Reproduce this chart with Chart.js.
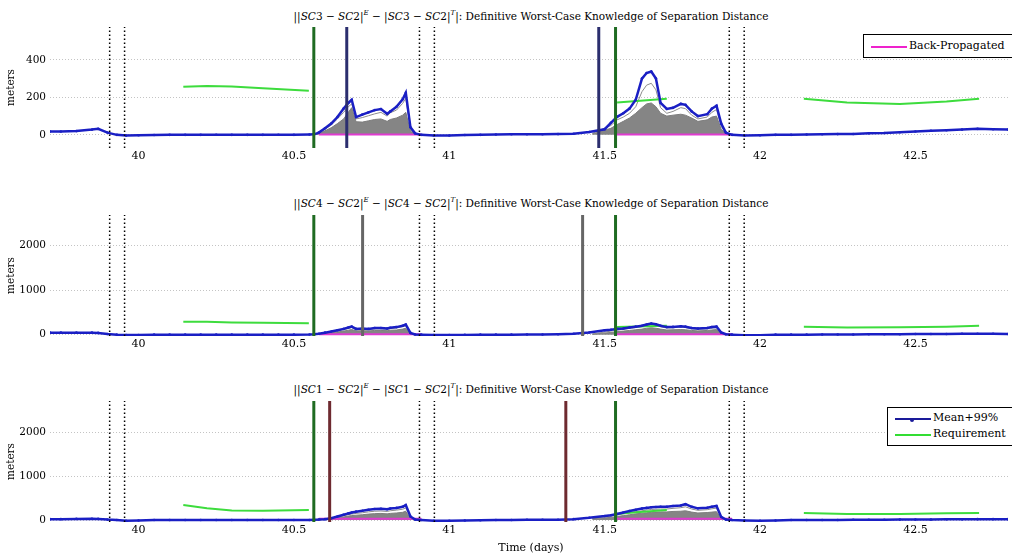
<!DOCTYPE html>
<html>
<head>
<meta charset="utf-8">
<script src="https://cdn.jsdelivr.net/npm/chart.js@4.4.0/dist/chart.umd.min.js"></script>
<style>
body { margin:0; background:#fff; width:1012px; height:557px; overflow:hidden; position:relative; font-family:"DejaVu Serif", serif; color:#000; }
canvas { position:absolute; left:0; }
.ptitle { position:absolute; left:50px; width:962px; text-align:center; font-size:10.5px; line-height:14px; white-space:nowrap; }
.ptitle sup { font-size:7px; vertical-align:5px; line-height:0; }
.xtitle { position:absolute; left:50px; width:962px; text-align:center; font-size:11px; line-height:14px; top:541px; }
.legend { position:absolute; background:#fff; border:1px solid #000; font-size:11px; z-index:5; }
.legend .row { position:absolute; left:0; height:14px; line-height:14px; white-space:nowrap; }
.legend .swatch { position:absolute; left:7px; width:36px; top:7px; }
.legend .lbl { position:absolute; left:45px; top:0; }
.legend .dot { position:absolute; left:15px; top:-2px; width:4px; height:4px; border-radius:2px; }
</style>
</head>
<body>
<div class="ptitle" style="top:9px">||<i>SC</i>3 &minus; <i>SC</i>2|<sup><i>E</i></sup> &minus; |<i>SC</i>3 &minus; <i>SC</i>2|<sup><i>T</i></sup>|: Definitive Worst-Case Knowledge of Separation Distance</div>
<div class="ptitle" style="top:196px">||<i>SC</i>4 &minus; <i>SC</i>2|<sup><i>E</i></sup> &minus; |<i>SC</i>4 &minus; <i>SC</i>2|<sup><i>T</i></sup>|: Definitive Worst-Case Knowledge of Separation Distance</div>
<div class="ptitle" style="top:382px">||<i>SC</i>1 &minus; <i>SC</i>2|<sup><i>E</i></sup> &minus; |<i>SC</i>1 &minus; <i>SC</i>2|<sup><i>T</i></sup>|: Definitive Worst-Case Knowledge of Separation Distance</div>

<canvas id="c1" width="1012" height="170" style="top:0px"></canvas>
<canvas id="c2" width="1012" height="170" style="top:188px"></canvas>
<canvas id="c3" width="1012" height="170" style="top:374px"></canvas>
<div class="xtitle">Time (days)</div>

<div class="legend" style="left:863px; top:34px; width:152px; height:22px;">
  <div class="row" style="top:4px"><div class="swatch" style="border-top:2px solid #ee22cc"></div><div class="lbl">Back-Propagated</div></div>
</div>
<div class="legend" style="left:887px; top:407px; width:130px; height:37px;">
  <div class="row" style="top:3px"><div class="swatch" style="border-top:2px solid #1a1a9a"><div class="dot" style="background:#1a1a9a"></div></div><div class="lbl">Mean+99%</div></div>
  <div class="row" style="top:19px"><div class="swatch" style="border-top:2px solid #33dd33"></div><div class="lbl">Requirement</div></div>
</div>

<script>
// time axis (days)
var dayMin = 39.715, dayMax = 42.798;
var dayTicks = [40, 40.5, 41, 41.5, 42, 42.5];

// sample times of the Mean+99% curves
var t = [39.715, 39.75, 39.80, 39.85, 39.87, 39.90, 39.93, 39.96, 40.0, 40.05, 40.10, 40.15, 40.20, 40.25, 40.30, 40.35, 40.40, 40.45, 40.50, 40.55,
         40.565, 40.58, 40.60, 40.62, 40.64, 40.66, 40.675, 40.686, 40.70, 40.72, 40.74, 40.76, 40.78, 40.80, 40.81, 40.83, 40.85, 40.86, 40.875, 40.89, 40.91,
         40.95, 41.0, 41.05, 41.10, 41.15, 41.20, 41.25, 41.30, 41.35, 41.40, 41.45, 41.50,
         41.52, 41.54, 41.56, 41.58, 41.60, 41.62, 41.635, 41.65, 41.665, 41.68, 41.70, 41.72, 41.745, 41.76, 41.78, 41.80, 41.83, 41.845, 41.86, 41.875, 41.89, 41.91,
         41.95, 42.0, 42.05, 42.10, 42.15, 42.20, 42.25, 42.30, 42.35, 42.40, 42.45, 42.50, 42.55, 42.60, 42.65, 42.70, 42.75, 42.798];

var sc3Mean = [18, 18, 20, 28, 32, 12, 0, -4, -2, -1, 0, 0, 0, 1, 0, 0, 0, 1, 0, 2,
               3, 12, 35, 60, 95, 140, 170, 187, 95, 108, 120, 132, 138, 112, 125, 150, 190, 224, 40, 8, 0,
               -3, -3, -1, 0, 2, 3, 3, 3, 4, 6, 15, 30,
               64, 96, 115, 140, 187, 300, 330, 338, 300, 170, 138, 144, 165, 160, 125, 100, 110, 140, 155, 60, 12, 0,
               -4, -2, 0, 0, 2, 3, 4, 5, 8, 10, 14, 18, 22, 25, 28, 32, 30, 28];
var sc4Mean = [45, 45, 45, 45, 40, 15, 0, -10, -10, 0, 0, 0, 0, 0, 0, 0, 0, 0, 0, 5,
               10, 20, 45, 70, 100, 130, 160, 180, 130, 140, 130, 150, 150, 140, 155, 170, 200, 225, 40, 5, 0,
               -10, -10, -5, 0, 0, 0, 5, 5, 10, 20, 50, 100,
               110, 130, 140, 160, 180, 200, 230, 250, 235, 200, 170, 175, 190, 180, 150, 140, 150, 170, 180, 50, 10, 0,
               -15, -15, 0, 0, 0, 5, 5, 5, 10, 10, 10, 15, 15, 15, 20, 20, 20, 15];
var sc1Mean = [20, 20, 25, 30, 25, 10, 0, -15, -10, 0, 0, 0, 0, 0, 0, 0, 0, 0, 0, 0,
               5, 10, 20, 40, 80, 120, 150, 170, 190, 210, 235, 250, 255, 245, 260, 275, 300, 340, 80, 10, 0,
               -15, -15, -10, -5, 0, 0, 5, 5, 5, 20, 50, 90,
               110, 136, 170, 205, 235, 260, 275, 290, 295, 300, 300, 320, 330, 360, 300, 265, 280, 300, 320, 70, 10, 0,
               -10, -15, -10, 0, 0, 0, 0, 5, 5, 5, 10, 10, 10, 15, 15, 20, 20, 20];

// Monte Carlo runs during the two arcs
var arc1T = [40.565, 40.58, 40.60, 40.62, 40.64, 40.66, 40.675, 40.686, 40.70, 40.72, 40.74, 40.76, 40.78, 40.80, 40.81, 40.83, 40.85, 40.86, 40.875, 40.89, 40.91];
var arc2T = [41.46, 41.52, 41.54, 41.56, 41.58, 41.60, 41.62, 41.635, 41.65, 41.665, 41.68, 41.70, 41.72, 41.745, 41.76, 41.78, 41.80, 41.83, 41.845, 41.86, 41.875, 41.89, 41.91];

var sc3Bulk1 = [0, 8, 22, 38, 60, 85, 120, 145, 70, 68, 75, 82, 85, 72, 82, 90, 105, 120, 20, 3, 0];
var sc3Top1  = [0, 10, 30, 52, 85, 120, 150, 165, 85, 92, 102, 112, 120, 100, 118, 132, 168, 195, 30, 5, 0];
var sc3Bulk2 = [5, 35, 55, 72, 90, 115, 145, 165, 170, 150, 115, 100, 105, 110, 105, 90, 72, 80, 95, 100, 30, 5, 0];
var sc3Top2  = [8, 50, 80, 95, 115, 150, 230, 265, 275, 240, 145, 115, 125, 145, 140, 105, 85, 95, 120, 135, 45, 8, 0];

var sc4Bulk1 = [0, 10, 25, 40, 60, 80, 100, 115, 85, 90, 85, 95, 95, 90, 100, 105, 125, 145, 20, 2, 0];
var sc4Top1  = [0, 15, 35, 55, 85, 110, 140, 160, 110, 120, 115, 130, 130, 120, 135, 150, 180, 200, 30, 4, 0];
var sc4Bulk2 = [10, 50, 70, 80, 95, 110, 125, 145, 155, 145, 125, 105, 110, 115, 110, 95, 85, 95, 105, 115, 30, 5, 0];
var sc4Top2  = [15, 80, 105, 120, 140, 160, 180, 205, 225, 210, 175, 150, 155, 170, 160, 130, 120, 130, 150, 160, 40, 8, 0];

var sc1Bulk1 = [0, 5, 15, 30, 50, 70, 90, 100, 110, 120, 135, 145, 150, 140, 150, 160, 175, 200, 30, 3, 0];
var sc1Top1  = [0, 8, 18, 35, 65, 95, 120, 135, 150, 165, 185, 200, 205, 195, 210, 225, 245, 275, 50, 5, 0];
var sc1Bulk2 = [30, 60, 80, 100, 120, 140, 155, 165, 175, 180, 185, 185, 195, 200, 210, 180, 160, 170, 180, 190, 40, 5, 0];
var sc1Top2  = [40, 90, 115, 140, 165, 190, 210, 225, 240, 245, 250, 250, 265, 280, 300, 250, 220, 235, 255, 270, 55, 8, 0];

// back-propagated
var backT = [40.58, 40.91, 41.2, 41.53, 41.91];
var sc3Back = [2, 2, null, 2, 2];
var sc4Back = [10, 10, null, 10, 10];
var sc1Back = [30, 30, null, 30, 30];

// requirement
var reqT = [40.144, 40.22, 40.30, 40.40, 40.548, 41.0, 41.54, 41.70, 42.0, 42.141, 42.28, 42.45, 42.60, 42.705];
var sc3Req = [256, 261, 258, 248, 235, null, 172, 192, null, 192, 172, 165, 178, 192];
var sc4Req = [290, 290, 275, 270, 255, null, 170, 200, null, 180, 160, 165, 180, 200];
var sc1Req = [340, 270, 215, 210, 225, null, 140, 230, null, 160, 136, 136, 155, 160];

// event markers
var dottedDays = [39.907, 39.955, 40.904, 40.952, 41.901, 41.949];
var handoverDays = [40.564, 41.535];
var sc3Events = [40.670, 41.481];
var sc4Events = [40.721, 41.429];
var sc1Events = [40.615, 41.375];

var FONT = 'DejaVu Serif';
var BLUE = '#1a1fc4';

function pts(xs, ys) {
    return xs.map(function(x, i) { return {x: x, y: ys[i]}; });
}

function vline(day, lo, hi, color, width, dash) {
    return {data: [{x: day, y: lo}, {x: day, y: hi}], borderColor: color, borderWidth: width,
            borderDash: dash || [], pointRadius: 0, fill: false};
}

function panel(id, p) {
    var ds = [];
    dottedDays.forEach(function(d) { ds.push(vline(d, p.yMin, p.yMax, '#000', 1.5, [1.5, 2.5])); });
    handoverDays.forEach(function(d) { ds.push(vline(d, p.yMin, p.yMax, '#1f6b22', 3)); });
    p.events.forEach(function(d) { ds.push(vline(d, p.yMin, p.yMax, p.eventColor, 3)); });
    ds.push({label: 'Mean+99%', data: pts(t, p.mean), borderColor: BLUE, borderWidth: 2.5,
             pointRadius: 1.3, pointBackgroundColor: BLUE, pointBorderWidth: 0, fill: false});
    ds.push({label: 'Requirement', data: pts(reqT, p.req), borderColor: '#3ddc3d', borderWidth: 2,
             pointRadius: 0, fill: false});
    ds.push({label: 'Back-Propagated', data: pts(backT, p.back), borderColor: '#e03ad0', borderWidth: 2,
             pointRadius: 0, fill: false});
    var gap = [{x: 41.2, y: null}];
    ds.push({data: pts(arc1T, p.top1).concat(gap, pts(arc2T, p.top2)), borderColor: '#8c8c8c',
             borderWidth: 1, pointRadius: 0, fill: false});
    ds.push({data: pts(arc1T, p.bulk1).concat(gap, pts(arc2T, p.bulk2)), borderColor: '#7d7d7d',
             backgroundColor: '#858585', borderWidth: 1, pointRadius: 0, fill: 'origin'});

    new Chart(document.getElementById(id), {
        type: 'line',
        data: {datasets: ds},
        options: {
            responsive: false,
            animation: false,
            layout: {padding: {top: 27, left: 0, right: 0, bottom: 0}},
            elements: {line: {tension: 0}},
            plugins: {legend: {display: false}, tooltip: {enabled: false}},
            scales: {
                x: {
                    type: 'linear', min: dayMin, max: dayMax,
                    afterBuildTicks: function(s) { s.ticks = dayTicks.map(function(v) { return {value: v}; }); },
                    afterFit: function(s) { s.height = 22; },
                    ticks: {color: '#000', font: {family: FONT, size: 11}, padding: 2, maxRotation: 0, autoSkip: false,
                            callback: function(v) { return String(v); }},
                    grid: {display: false, drawTicks: false},
                    border: {display: false}
                },
                y: {
                    min: p.yMin, max: p.yMax,
                    afterBuildTicks: function(s) { s.ticks = p.yTicks.map(function(v) { return {value: v}; }); },
                    afterFit: function(s) { s.width = 50; },
                    ticks: {color: '#000', font: {family: FONT, size: 10.5}, padding: 4,
                            callback: function(v) { return String(v); }},
                    grid: {color: '#c4c4c4', drawTicks: false},
                    border: {display: false, dash: [1, 2]},
                    title: {display: true, text: 'meters', color: '#000', font: {family: FONT, size: 10.5},
                            padding: {top: 5, bottom: 0}}
                }
            }
        }
    });
}

panel('c1', {yMin: -70, yMax: 575, yTicks: [0, 200, 400], mean: sc3Mean, req: sc3Req, back: sc3Back,
             bulk1: sc3Bulk1, top1: sc3Top1, bulk2: sc3Bulk2, top2: sc3Top2,
             events: sc3Events, eventColor: '#2b2e6e'});
panel('c2', {yMin: -30, yMax: 2690, yTicks: [0, 1000, 2000], mean: sc4Mean, req: sc4Req, back: sc4Back,
             bulk1: sc4Bulk1, top1: sc4Top1, bulk2: sc4Bulk2, top2: sc4Top2,
             events: sc4Events, eventColor: '#666666'});
panel('c3', {yMin: -45, yMax: 2705, yTicks: [0, 1000, 2000], mean: sc1Mean, req: sc1Req, back: sc1Back,
             bulk1: sc1Bulk1, top1: sc1Top1, bulk2: sc1Bulk2, top2: sc1Top2,
             events: sc1Events, eventColor: '#6e2a30'});
</script>
</body>
</html>
